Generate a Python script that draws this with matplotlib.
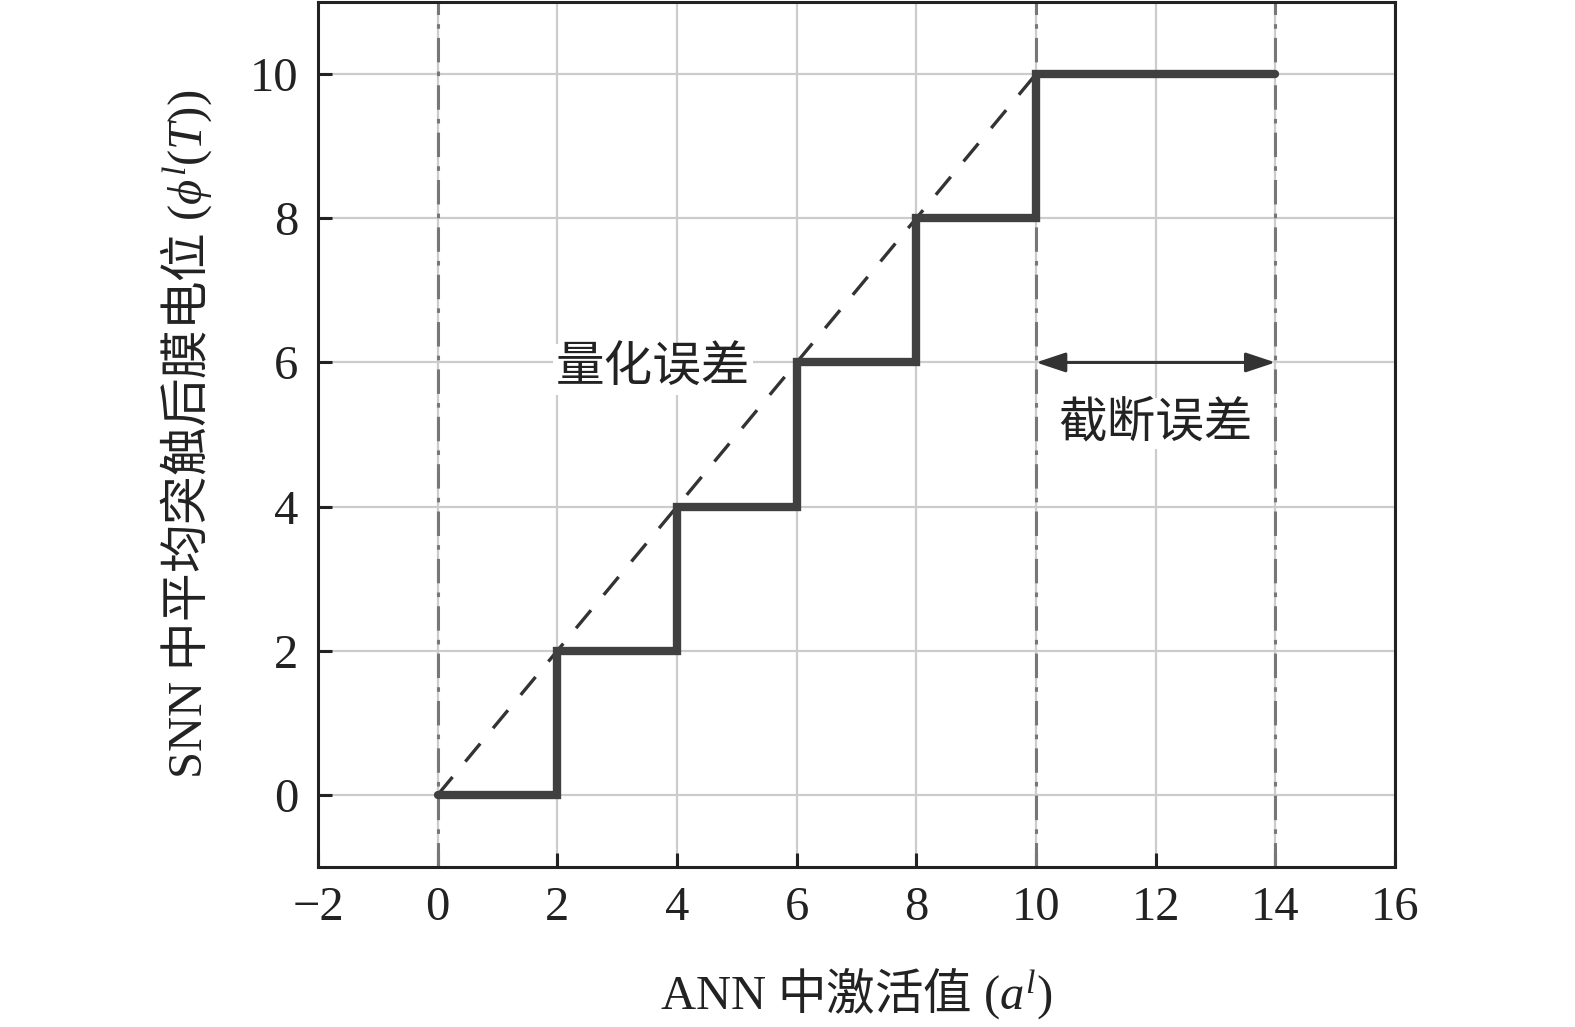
import numpy as np
import matplotlib
matplotlib.use("Agg")
import matplotlib.pyplot as plt

plt.rcParams['font.family'] = ['Liberation Serif', 'Noto Sans CJK SC']
plt.rcParams['mathtext.fontset'] = 'custom'
plt.rcParams['mathtext.rm'] = 'Liberation Serif'
plt.rcParams['mathtext.it'] = 'Liberation Serif:italic'
plt.rcParams['mathtext.sf'] = 'Noto Sans CJK SC'

# step of the SNN output vs ANN activation
step_x = [0, 2, 4, 6, 8, 10, 14]
step_y = [0, 2, 4, 6, 8, 10, 10]
# ideal (linear) ANN line
ideal_x = [0, 10]
ideal_y = [0, 10]
# vertical reference lines
vlines_x = [0, 10, 14]

xticks = [-2, 0, 2, 4, 6, 8, 10, 12, 14, 16]
yticks = [0, 2, 4, 6, 8, 10]

fig = plt.figure(figsize=(15.75, 10.27), dpi=100)
ax = fig.add_axes([0.2019, 0.1558, 0.6838, 0.8422])

ax.grid(True, color='#cccccc', lw=1.6)
ax.set_axisbelow(True)

for v in vlines_x:
    ax.axvline(v, color='#777777', lw=2.2, ls=(0, (8, 3, 1.5, 3)), zorder=2)

ax.plot(ideal_x, ideal_y, color='#333333', lw=2.4, ls=(0, (7, 6)), zorder=3)
ax.step(step_x, step_y, where='post', color='#404040', lw=6,
        solid_joinstyle='miter', solid_capstyle='round', zorder=4)

ax.annotate('', xy=(10, 6), xytext=(14, 6),
            arrowprops=dict(arrowstyle='<|-|>,head_length=0.6,head_width=0.2',
                            color='#333333', lw=2.2,
                            mutation_scale=30, shrinkA=0, shrinkB=0), zorder=5)

box = dict(facecolor='white', edgecolor='none', pad=2)
ax.text(3.6, 5.9, '量化误差', fontsize=35, ha='center', va='center',
        color='#222222', bbox=box, zorder=5)
ax.text(12.0, 5.15, '截断误差', fontsize=35, ha='center', va='center',
        color='#222222', bbox=box, zorder=5)

ax.set_xlim(-2, 16)
ax.set_ylim(-1, 11)
ax.set_xticks(xticks)
ax.set_yticks(yticks)
ax.set_xticklabels(['\u22122' if t < 0 else str(t) for t in xticks])
ax.tick_params(direction='in', length=10, width=2.2, labelsize=35,
               colors='#222222', pad=14)
for s in ax.spines.values():
    s.set_linewidth(2.2)
    s.set_color('#222222')

ax.set_xlabel(r'$\mathrm{ANN}\ \mathsf{中激活值}\ \mathrm{(}a^{l}\mathrm{)}$',
              fontsize=35, color='#222222', labelpad=26)
ax.set_ylabel(r'$\mathrm{SNN}\ \mathsf{中平均突触后膜电位}\ \mathrm{(}\phi^{l}\mathrm{(}T\mathrm{))}$',
              fontsize=35, color='#222222', labelpad=26)

fig.savefig('out.png', dpi=100)
